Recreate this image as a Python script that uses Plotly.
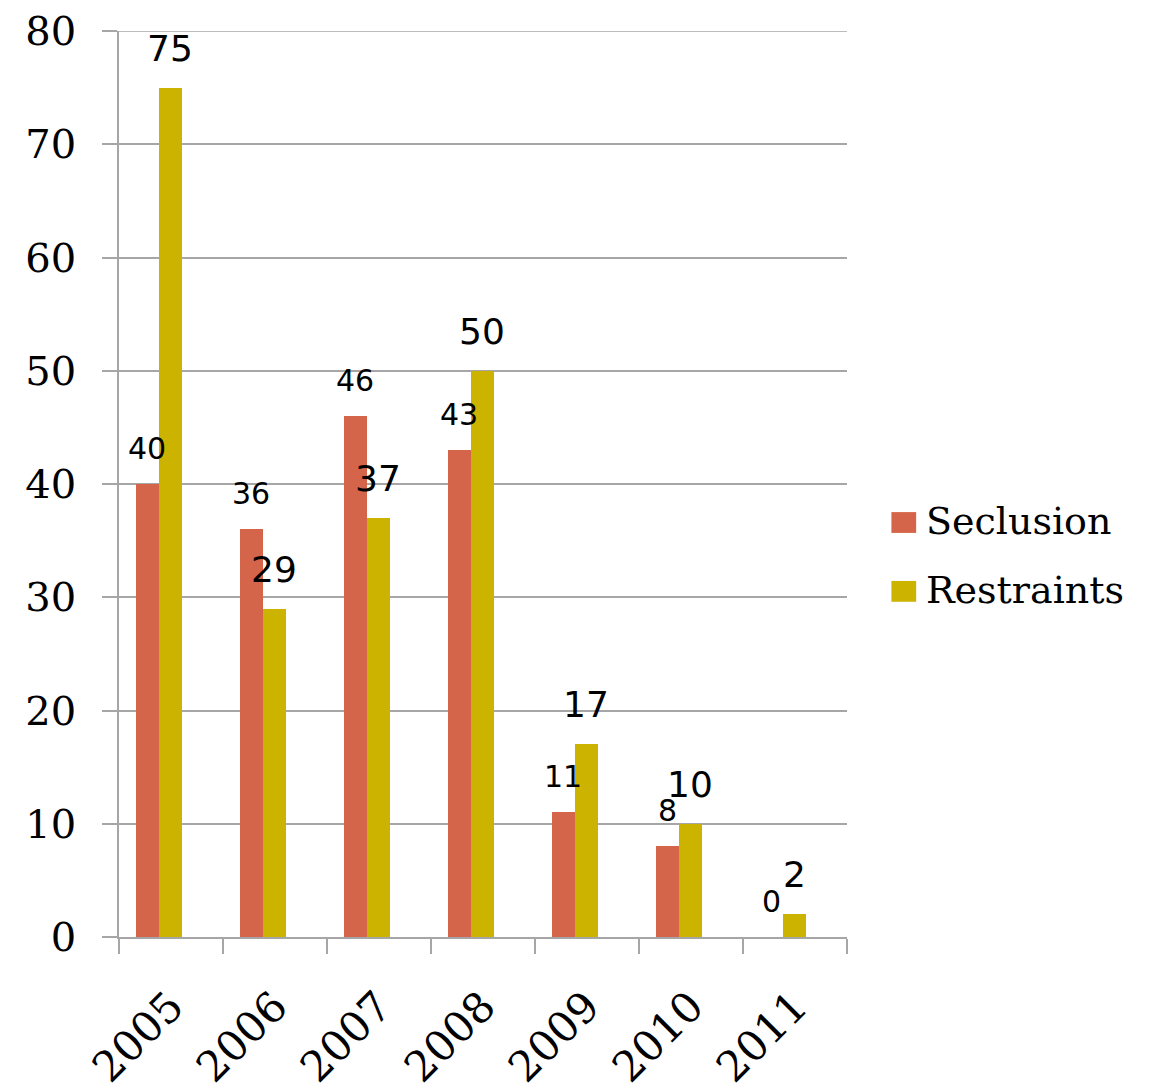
import plotly.graph_objects as go

years = ["2005", "2006", "2007", "2008", "2009", "2010", "2011"]
seclusion = [40, 36, 46, 43, 11, 8, 0]
restraints = [75, 29, 37, 50, 17, 10, 2]
series_names = ["Seclusion", "Restraints"]
y_ticks = [0, 10, 20, 30, 40, 50, 60, 70, 80]

C_SEC = "#D5654A"
C_RES = "#CCB300"
GRID = "#A6A6A6"
SERIF = "DejaVu Serif"
SANS = "DejaVu Sans"

BW = 0.221
OFF_SEC = -0.337
OFF_RES = OFF_SEC + BW

fig = go.Figure()
fig.add_trace(go.Bar(x=years, y=seclusion, name=series_names[0], marker_color=C_SEC,
                     width=BW, offset=OFF_SEC, marker_line_width=0, showlegend=False))
fig.add_trace(go.Bar(x=years, y=restraints, name=series_names[1], marker_color=C_RES,
                     width=BW, offset=OFF_RES, marker_line_width=0, showlegend=False))

annotations = []
for i, v in enumerate(seclusion):
    annotations.append(dict(x=i + OFF_SEC + BW / 2, y=v, xref="x", yref="y", text=str(v),
                            showarrow=False, yanchor="bottom", yshift=16,
                            font=dict(family=SANS, size=30, color="#000")))
for i, v in enumerate(restraints):
    annotations.append(dict(x=i + OFF_RES + BW / 2, y=v, xref="x", yref="y", text=str(v),
                            showarrow=False, yanchor="bottom", yshift=17,
                            font=dict(family=SANS, size=36, color="#000")))

# custom legend
legend_colors = [C_SEC, C_RES]
legend_y = [0.459, 0.383]
shapes = [dict(type="line", xref="paper", yref="y", x0=0, x1=1,
               y0=y_ticks[-1], y1=y_ticks[-1], line=dict(color=GRID, width=1.5), layer="below")]
for name, col, ly in zip(series_names, legend_colors, legend_y):
    shapes.append(dict(type="rect", xref="paper", yref="paper",
                       x0=1.061, x1=1.095, y0=ly - 0.013, y1=ly + 0.010,
                       fillcolor=col, line_width=0))
    annotations.append(dict(x=1.106, y=ly, xref="paper", yref="paper", text=name,
                            showarrow=False, xanchor="left", yanchor="middle",
                            font=dict(family=SERIF, size=38, color="#000")))

fig.update_layout(
    width=1162, height=1091,
    margin=dict(l=119, r=315, t=31, b=154),
    paper_bgcolor="white", plot_bgcolor="white",
    bargap=0, barmode="overlay",
    showlegend=False,
    annotations=annotations, shapes=shapes,
    xaxis=dict(type="category", range=[-0.5, 6.5], tickson="boundaries", automargin=False,
               ticks="outside", ticklen=15, tickcolor=GRID, tickwidth=1.5,
               showline=True, linecolor=GRID, linewidth=1.5, showgrid=False,
               tickangle=-45, ticklabelstandoff=26,
               tickfont=dict(family=SERIF, size=42, color="#000")),
    yaxis=dict(range=[0, 80], tickvals=y_ticks, ticks="outside", ticklen=15, automargin=False,
               tickcolor=GRID, tickwidth=1.5, showline=True, linecolor=GRID, linewidth=1.5,
               showgrid=True, gridcolor=GRID, gridwidth=1.5, zeroline=False,
               ticklabelstandoff=18,
               tickfont=dict(family=SERIF, size=40, color="#000")),
)

fig.write_html("out.html")
